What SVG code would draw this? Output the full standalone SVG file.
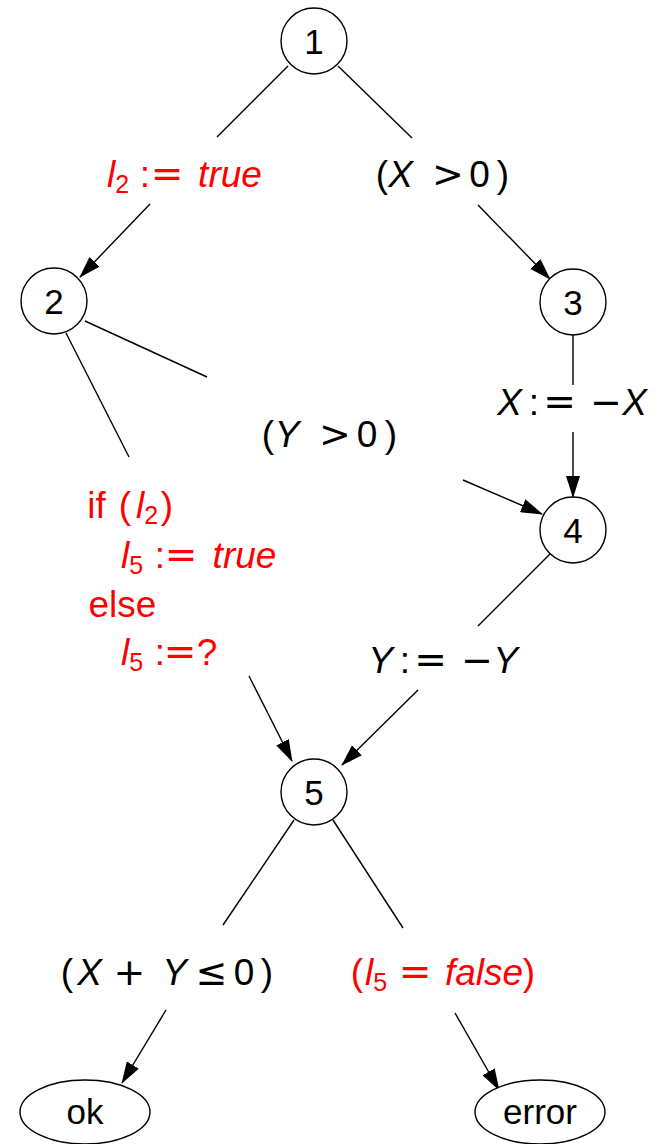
<svg xmlns="http://www.w3.org/2000/svg" width="660" height="1144" viewBox="0 0 660 1144">
<style>
.n{fill:#fff;stroke:#000;stroke-width:1.4}
.e{fill:none;stroke:#000;stroke-width:1.4}
.a{fill:none;stroke:#000;stroke-width:1.4;marker-end:url(#ah)}
text{font-family:"Liberation Sans",Arial,sans-serif;font-size:37px;text-anchor:middle;fill:#000}
.d{font-size:35px}
.r{fill:#f00}
.i{font-style:italic}
.s{font-size:25px}
.m{font-family:"DejaVu Sans",sans-serif;font-size:38px}
.q{font-family:"DejaVu Sans",sans-serif;font-size:39px}
</style>
<defs>
<marker id="ah" markerUnits="userSpaceOnUse" markerWidth="22" markerHeight="14" refX="21" refY="7" orient="auto">
<path d="M0,0 L22,7 L0,14 z" fill="#000"/>
</marker>
</defs>
<g id="connectors">
<line class="e" x1="288" y1="66" x2="217" y2="137"/>
<line class="e" x1="338" y1="66" x2="412" y2="138"/>
<line class="a" x1="150" y1="204" x2="80" y2="277"/>
<line class="a" x1="478" y1="205" x2="550" y2="279"/>
<line class="e" x1="85" y1="321" x2="207" y2="377"/>
<line class="e" x1="66" y1="333" x2="129" y2="457"/>
<line class="a" x1="463" y1="480" x2="542" y2="514"/>
<line class="e" x1="573" y1="335" x2="573" y2="385"/>
<line class="a" x1="573" y1="432" x2="573" y2="497"/>
<line class="e" x1="550" y1="554" x2="478" y2="626"/>
<line class="a" x1="418" y1="690" x2="342" y2="765"/>
<line class="a" x1="249" y1="676" x2="292" y2="761"/>
<line class="e" x1="294" y1="820" x2="223" y2="925"/>
<line class="e" x1="333" y1="820" x2="403" y2="928"/>
<line class="a" x1="166" y1="1010" x2="122" y2="1083"/>
<line class="a" x1="455" y1="1013" x2="499" y2="1090"/>
</g>
<g id="n1"><circle class="n" cx="314" cy="41" r="33"/><text class="d" x="314" y="54">1</text></g>
<g id="n2"><circle class="n" cx="54" cy="301" r="33"/><text class="d" x="54" y="314">2</text></g>
<g id="n3"><circle class="n" cx="573" cy="302" r="33"/><text class="d" x="573" y="315">3</text></g>
<g id="n4"><circle class="n" cx="573" cy="530" r="33"/><text class="d" x="573" y="543">4</text></g>
<g id="n5"><circle class="n" cx="314" cy="792" r="33"/><text class="d" x="314" y="805">5</text></g>
<g id="ok"><ellipse class="n" cx="85" cy="1112" rx="65" ry="32"/><text class="d" x="85" y="1124">ok</text></g>
<g id="error"><ellipse class="n" cx="540" cy="1112" rx="65" ry="32"/><text class="d" x="540" y="1124">error</text></g>
<g id="labels">
<text class="r"><tspan class="i" x="118" y="187">l</tspan><tspan class="s" dy="6">2</tspan><tspan x="145" y="187">:</tspan><tspan class="q" x="167" y="187">=</tspan><tspan class="i" x="230" y="187">true</tspan></text>
<text><tspan x="382" y="187">(</tspan><tspan class="i" x="400.5" y="187">X</tspan><tspan class="m" x="448" y="187">&gt;</tspan><tspan x="479.5" y="187">0</tspan><tspan x="503" y="187">)</tspan></text>
<text><tspan x="268" y="447">(</tspan><tspan class="i" x="287" y="447">Y</tspan><tspan class="m" x="335" y="447">&gt;</tspan><tspan x="367" y="447">0</tspan><tspan x="391" y="447">)</tspan></text>
<text><tspan class="i" x="509.5" y="415">X</tspan><tspan x="534" y="415">:</tspan><tspan class="q" x="559.5" y="415">=</tspan><tspan class="m" x="606" y="415">−</tspan><tspan class="i" x="634.5" y="415">X</tspan></text>
<text><tspan class="i" x="380.5" y="673">Y</tspan><tspan x="405" y="673">:</tspan><tspan class="q" x="430.5" y="673">=</tspan><tspan class="m" x="477" y="673">−</tspan><tspan class="i" x="505.5" y="673">Y</tspan></text>
<text class="r"><tspan x="96.5" y="518">if</tspan><tspan x="125" y="518">(</tspan><tspan class="i" x="147" y="518">l</tspan><tspan class="s" dy="6">2</tspan><tspan x="167" y="518">)</tspan></text>
<text class="r"><tspan class="i" x="132" y="568">l</tspan><tspan class="s" dy="6">5</tspan><tspan x="160" y="568">:</tspan><tspan class="q" x="181" y="568">=</tspan><tspan class="i" x="244.5" y="568">true</tspan></text>
<text class="r" x="122.5" y="617">else</text>
<text class="r"><tspan class="i" x="132" y="665">l</tspan><tspan class="s" dy="6">5</tspan><tspan x="160" y="665">:</tspan><tspan class="q" x="180" y="665">=</tspan><tspan x="207" y="665">?</tspan></text>
<text><tspan x="67" y="985">(</tspan><tspan class="i" x="89.5" y="985">X</tspan><tspan class="m" x="129.5" y="985">+</tspan><tspan class="i" x="174.5" y="985">Y</tspan><tspan class="m" x="211.5" y="985">≤</tspan><tspan x="244" y="985">0</tspan><tspan x="267" y="985">)</tspan></text>
<text class="r"><tspan x="357" y="985">(</tspan><tspan class="i" x="376" y="985">l</tspan><tspan class="s" dy="6">5</tspan><tspan class="q" x="415" y="985">=</tspan><tspan class="i" x="484" y="985">false</tspan><tspan x="529" y="985">)</tspan></text>
</g>
</svg>
